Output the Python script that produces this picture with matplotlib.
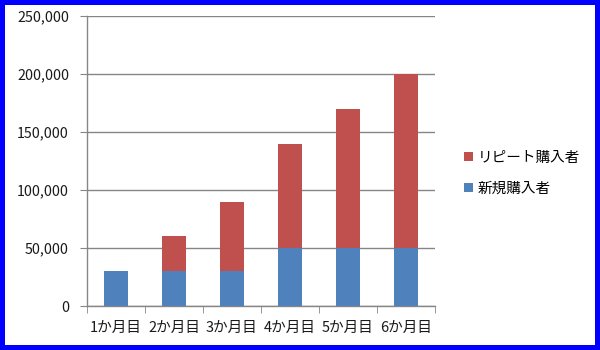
import matplotlib.pyplot as plt
import numpy as np
from matplotlib.patches import Rectangle

plt.rcParams['font.family'] = ['Noto Sans CJK JP', 'DejaVu Sans']

months = ['1か月目', '2か月目', '3か月目', '4か月目', '5か月目', '6か月目']
new_buyers = [30000, 30000, 30000, 50000, 50000, 50000]
repeat_buyers = [0, 30000, 60000, 90000, 120000, 150000]

blue = '#4F81BD'
red = '#C0504D'
grid_col = '#868686'

fig = plt.figure(figsize=(6, 3.5), dpi=100)
ax = fig.add_axes([87 / 600, 44 / 350, 348 / 600, 290 / 350])

x = np.arange(len(months))
ax.bar(x, new_buyers, width=0.42, color=blue, label='新規購入者', zorder=3)
ax.bar(x, repeat_buyers, width=0.42, bottom=new_buyers, color=red,
       label='リピート購入者', zorder=3)

ax.set_xlim(-0.5, len(months) - 0.5)
ax.set_ylim(0, 250000)
ax.set_yticks(np.arange(0, 250001, 50000))
ax.set_yticklabels([f'{v:,}' for v in range(0, 250001, 50000)])
ax.yaxis.grid(True, color=grid_col, linewidth=1, zorder=0)

ax.set_xticks(x)
ax.set_xticklabels(months)
ax.set_xticks(np.arange(-0.5, len(months)), minor=True)
ax.tick_params(axis='x', which='major', length=0, pad=11, labelsize=10.5,
               labelcolor='#1a1a1a')
ax.tick_params(axis='x', which='minor', length=5, color=grid_col)
ax.tick_params(axis='y', length=5, color=grid_col, labelsize=10.3,
               labelcolor='#1a1a1a', pad=8)

for side in ['top', 'right']:
    ax.spines[side].set_visible(False)
for side in ['left', 'bottom']:
    ax.spines[side].set_color(grid_col)
    ax.spines[side].set_linewidth(1)

handles, labels = ax.get_legend_handles_labels()
leg = fig.legend(handles[::-1], labels[::-1], loc='center left',
                 bbox_to_anchor=(0.752, 0.505), frameon=False,
                 fontsize=10.5, handlelength=0.6, handleheight=0.6,
                 handletextpad=0.3, labelspacing=1.15)

# blue frame around the image
fig.patches.append(Rectangle((0, 0), 1, 1, transform=fig.transFigure,
                             fill=False, edgecolor='#0000FF', linewidth=7.2))

fig.savefig('out.png', dpi=100)
